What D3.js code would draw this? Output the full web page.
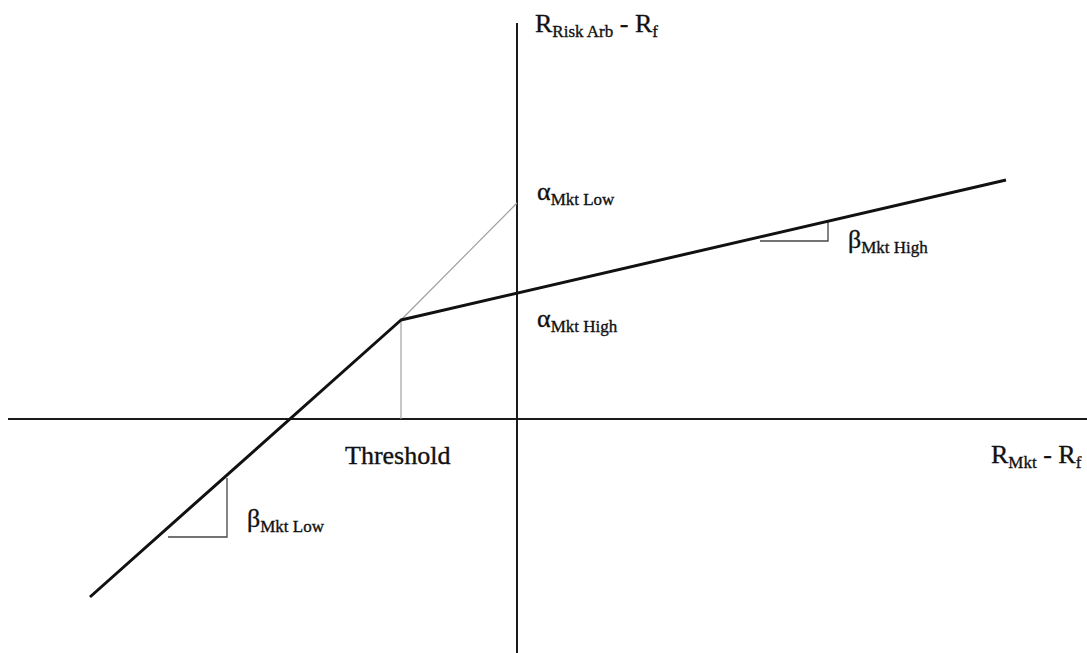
<!DOCTYPE html>
<html>
<head>
<meta charset="utf-8">
<script src="https://cdn.jsdelivr.net/npm/d3@7"></script>
<style>
  body { margin: 0; background: #fff; }
  svg text { font-family: "Liberation Serif", "Times New Roman", serif; fill: #111; stroke: #111; stroke-width: 0.35; }
</style>
</head>
<body>
<svg id="chart" width="1087" height="653"></svg>
<script>
var svg = d3.select("#chart"),
    width = +svg.attr("width"),
    height = +svg.attr("height");

// values (x = R_Mkt - R_f, y = R_RiskArb - R_f, arbitrary units)
var xAxisSpan = [-5.09, 5.70];
var yAxisSpan = [-2.34, 3.96];
var kinkedLine = [[-4.27, -1.78], [-1.16, 0.99], [4.89, 2.39]];
var lowExtension = [[-1.16, 0.99], [0, 2.16]];
var thresholdDrop = [[-1.16, 0], [-1.16, 0.99]];
var betaHighTriangle = [[2.43, 1.78], [3.11, 1.78], [3.11, 1.97]];
var betaLowTriangle = [[-3.49, -1.18], [-2.90, -1.18], [-2.90, -0.59]];

// labels: [main, subscript, main, subscript, x, y]
var labels = [
  ["R", "Risk Arb", " - R", "f", 0.18, 3.87],
  ["\u03B1", "Mkt Low", "", "", 0.20, 2.19],
  ["\u03B1", "Mkt High", "", "", 0.20, 0.92],
  ["\u03B2", "Mkt High", "", "", 3.31, 1.71],
  ["\u03B2", "Mkt Low", "", "", -2.70, -1.08],
  ["Threshold", "", "", "", -1.72, -0.45],
  ["R", "Mkt", " - R", "f", 4.74, -0.44]
];

var x = d3.scaleLinear().domain([-5.17, 5.70]).range([0, width]);
var y = d3.scaleLinear().domain([4.19, -2.34]).range([0, height]);

var line = d3.line()
  .x(function(d) { return x(d[0]); })
  .y(function(d) { return y(d[1]); });

// axes
svg.append("line")
  .attr("x1", x(xAxisSpan[0])).attr("x2", x(xAxisSpan[1]))
  .attr("y1", y(0)).attr("y2", y(0))
  .attr("stroke", "#1a1a1a").attr("stroke-width", 2);

svg.append("line")
  .attr("x1", x(0)).attr("x2", x(0))
  .attr("y1", y(yAxisSpan[1])).attr("y2", y(yAxisSpan[0]))
  .attr("stroke", "#1a1a1a").attr("stroke-width", 2);

// thin helper lines
svg.selectAll(".thin")
  .data([lowExtension, thresholdDrop])
  .enter().append("path")
  .attr("class", "thin")
  .attr("d", line)
  .attr("fill", "none")
  .attr("stroke", "#a0a0a0")
  .attr("stroke-width", 1.2);

// slope triangles
svg.selectAll(".tri")
  .data([betaHighTriangle, betaLowTriangle])
  .enter().append("path")
  .attr("class", "tri")
  .attr("d", line)
  .attr("fill", "none")
  .attr("stroke", "#444")
  .attr("stroke-width", 1.3);

// the kinked return line
svg.append("path")
  .datum(kinkedLine)
  .attr("d", line)
  .attr("fill", "none")
  .attr("stroke", "#111")
  .attr("stroke-width", 3)
  .attr("stroke-linejoin", "round");

// labels
var lab = svg.selectAll(".lab")
  .data(labels)
  .enter().append("text")
  .attr("class", "lab")
  .attr("x", function(d) { return x(d[4]); })
  .attr("y", function(d) { return y(d[5]); })
  .attr("font-size", 26);

lab.append("tspan").text(function(d) { return d[0]; });
lab.append("tspan")
  .attr("font-size", 17)
  .attr("dy", 5)
  .text(function(d) { return d[1]; });
lab.filter(function(d) { return d[2] !== ""; }).each(function(d) {
  var t = d3.select(this);
  t.append("tspan").attr("dy", -5).style("white-space", "pre").text(d[2]);
  t.append("tspan").attr("font-size", 17).attr("dy", 5).text(d[3]);
});
</script>
</body>
</html>
